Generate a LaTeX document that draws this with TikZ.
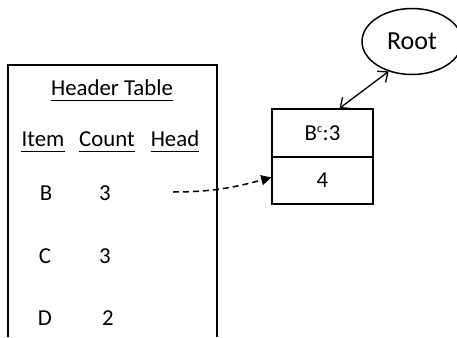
\documentclass[tikz,border=0pt]{standalone}
\usepackage{fontspec}
\setmainfont{Carlito}
\usetikzlibrary{arrows.meta,shapes.geometric}
\begin{document}
\begin{tikzpicture}[x=1pt,y=-1pt,
  lbl/.style={anchor=base,inner sep=0pt,font=\fontsize{22.8}{27}\selectfont},
  cell/.style={draw,line width=1.5pt,minimum width=101pt,inner sep=0pt,
    font=\fontsize{22.8}{27}\selectfont},
  ul/.style={line width=1.4pt},
  frame/.style={line width=1.5pt}]
\useasboundingbox (0,0) rectangle (457,337);

% header table frame (open at the bottom)
\draw[frame] (8,337) -- (8,65) -- (217,65) -- (217,337);

% table title and column heads
\node[lbl] (hdr) at (112,95) {Header Table};
\node[lbl] (item) at (43,146) {Item};
\node[lbl] (count) at (107,146) {Count};
\node[lbl] (head) at (175,146) {Head};
\foreach \n in {hdr,item,count,head}
  \draw[ul] ([yshift=-5.5pt]\n.base west) -- ([yshift=-5.5pt]\n.base east);

% table rows
\node[lbl] (b) at (46,200) {B};
\node[lbl] (b3) at (105,200) {3};
\node[lbl] (c) at (45,263) {C};
\node[lbl] (c3) at (105,263) {3};
\node[lbl] (d) at (45,325) {D};
\node[lbl] (d2) at (108,325) {2};
\coordinate (bhead) at (173,192);

% tree node
\node[cell,minimum height=48pt] (bc) at (322.5,133) {B\textsuperscript{\fontsize{12}{12}\selectfont c}:3};
\node[cell,minimum height=47pt] (four) at (322.5,180.5) {4};

% root
\node[draw,ellipse,line width=1.5pt,minimum width=100pt,minimum height=66pt,
  inner sep=0pt,font=\fontsize{26}{30}\selectfont] (root) at (412,41.5) {Root};

% links
\draw[line width=1.3pt,{Straight Barb[length=8pt,width=14pt]}-{Straight Barb[length=8pt,width=14pt]}]
  ([xshift=17pt]bc.north) -- (root.232);
\draw[line width=1.5pt,dash pattern=on 6pt off 4pt,-{Triangle[length=10pt,width=10pt]}]
  (bhead) to[out=0,in=195] ([yshift=3pt]four.west);
\end{tikzpicture}
\end{document}
